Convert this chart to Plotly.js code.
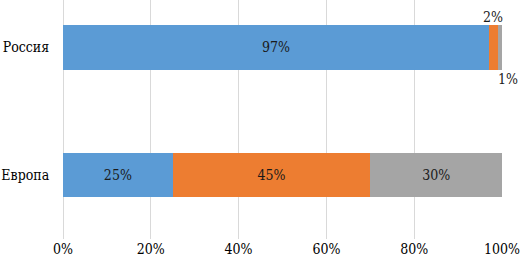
<!DOCTYPE html>
<html><head><meta charset="utf-8">
<script src="https://cdn.plot.ly/plotly-3.0.1.min.js"></script>
<style>html,body{margin:0;padding:0;background:#fff}</style>
</head><body>
<div id="chart" style="width:521px;height:266px"></div>
<script>
const categories = ['Европа', 'Россия'];
const series1 = [25, 97];
const series2 = [45, 2];
const series3 = [30, 1];
const xTicks = [0, 20, 40, 60, 80, 100];
const xTickLabels = ['0%', '20%', '40%', '60%', '80%', '100%'];

const colors = ['#5B9BD5', '#ED7D31', '#A5A5A5'];
const fam = 'DejaVu Serif Condensed';
const font = {family: fam, size: 14, color: '#000'};
const labelFont = {family: fam, size: 14, color: '#1a1a1a'};

function insideText(vals) { return vals.map(v => v >= 10 ? v + '%' : ''); }

const allSeries = [series1, series2, series3];
const traces = allSeries.map((s, i) => ({
  type: 'bar', orientation: 'h', y: categories, x: s,
  marker: {color: colors[i]}, width: 0.35,
  text: insideText(s), textposition: 'inside', insidetextanchor: 'middle',
  textfont: labelFont, hoverinfo: 'none', showlegend: false
}));

const ri = 1;
const annotations = [
  {x: series1[ri] + series2[ri] / 2, y: categories[ri], text: series2[ri] + '%', showarrow: false,
   yshift: 30, font: labelFont},
  {x: series1[ri] + series2[ri] + series3[ri], y: categories[ri], text: series3[ri] + '%', showarrow: false,
   yshift: -32, xshift: 6, font: labelFont}
];

const layout = {
  barmode: 'stack',
  width: 521, height: 266,
  margin: {l: 63, r: 19, t: 0, b: 27, pad: 0},
  paper_bgcolor: '#fff', plot_bgcolor: '#fff',
  font: font,
  xaxis: {range: [0, 100], tickvals: xTicks, ticktext: xTickLabels, showgrid: true,
          gridcolor: '#d9d9d9', gridwidth: 1, zeroline: true, zerolinecolor: '#d9d9d9',
          showline: false, ticks: '', tickfont: font, fixedrange: true},
  yaxis: {type: 'category', range: [-0.5, 1.371], showgrid: false, zeroline: false,
          ticks: 'outside', ticklen: 10, tickcolor: 'rgba(0,0,0,0)', tickfont: font, showline: false},
  annotations: annotations,
  uniformtext: {mode: false}
};
Plotly.newPlot('chart', traces, layout, {displayModeBar: false, staticPlot: true});
</script>
</body></html>
